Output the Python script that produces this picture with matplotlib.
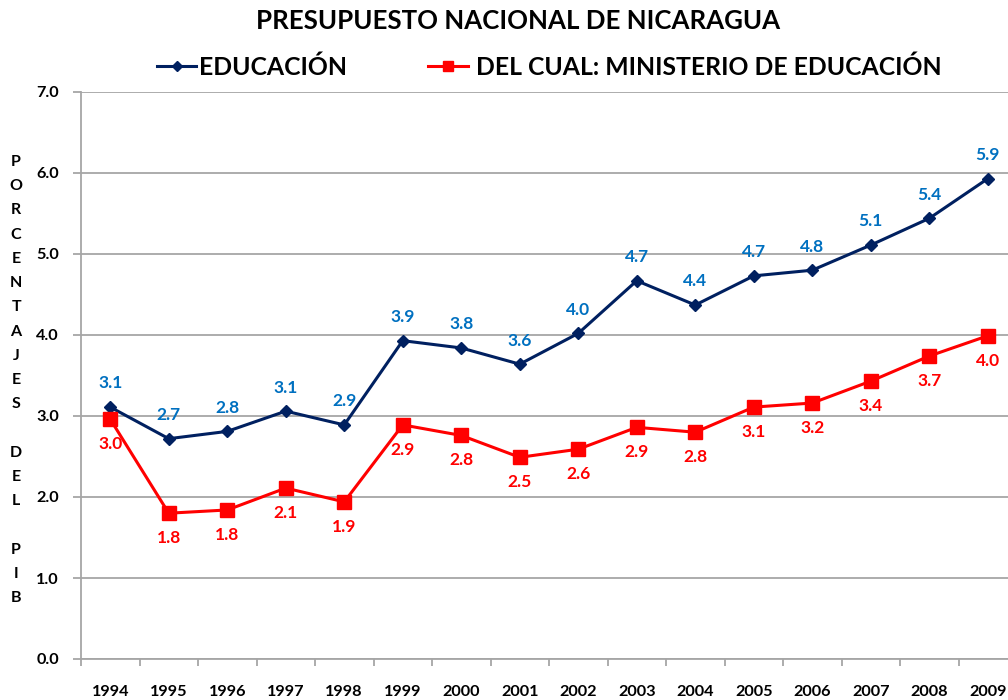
import matplotlib
matplotlib.use('Agg')
import matplotlib.pyplot as plt
from matplotlib.ticker import FixedLocator, NullFormatter

plt.rcParams['font.family'] = ['Lato', 'DejaVu Sans']
plt.rcParams['font.weight'] = 'bold'

years = ['1994', '1995', '1996', '1997', '1998', '1999', '2000', '2001',
         '2002', '2003', '2004', '2005', '2006', '2007', '2008', '2009']
educacion = [3.11, 2.72, 2.81, 3.06, 2.89, 3.93, 3.84, 3.64,
             4.02, 4.67, 4.37, 4.73, 4.80, 5.11, 5.44, 5.93]
ministerio = [2.96, 1.80, 1.84, 2.11, 1.94, 2.89, 2.76, 2.49,
              2.59, 2.86, 2.80, 3.11, 3.16, 3.43, 3.74, 3.99]

navy = '#002060'
red = '#FF0000'
lblue = '#0070C0'
grid = '#A6A6A6'

fig = plt.figure(figsize=(10.08, 7), dpi=100)
ax = fig.add_axes([81 / 1008, 41 / 700, 936 / 1008, 567 / 700])

x = list(range(len(years)))
ax.plot(x, educacion, color=navy, lw=2.2, marker='D', ms=6.5, label='EDUCACIÓN', zorder=3)
ax.plot(x, ministerio, color=red, lw=2.2, marker='s', ms=9.5,
        label=' DEL CUAL: MINISTERIO DE EDUCACIÓN', zorder=3)

for i, v in enumerate(educacion):
    ax.annotate(f'{v:.1f}', (i, v), xytext=(0, 17), textcoords='offset points',
                ha='center', va='center', color=lblue, fontsize=12.5, fontweight='bold')
for i, v in enumerate(ministerio):
    ax.annotate(f'{v:.1f}', (i, v), xytext=(0, -18), textcoords='offset points',
                ha='center', va='center', color=red, fontsize=12.5, fontweight='bold')

ax.set_xlim(-0.5, len(years) - 0.5)
ax.set_ylim(0, 7)
ax.set_yticks([0, 1, 2, 3, 4, 5, 6, 7])
ax.set_yticklabels([f'{t:.1f}' for t in range(8)])
ax.yaxis.grid(True, color=grid, lw=1.3)
ax.set_axisbelow(True)

ax.set_xticks(x)
ax.set_xticklabels(years)
ax.tick_params(axis='x', which='major', length=0, pad=19, labelsize=11.7)
ax.xaxis.set_minor_locator(FixedLocator([i + 0.5 for i in range(-1, len(years))]))
ax.xaxis.set_minor_formatter(NullFormatter())
ax.tick_params(axis='x', which='minor', length=5, color=grid, width=1.3)
ax.tick_params(axis='y', length=6, color=grid, width=1.3, labelsize=11.7, pad=10)

for s in ['top', 'right']:
    ax.spines[s].set_visible(False)
for s in ['left', 'bottom']:
    ax.spines[s].set_color(grid)
    ax.spines[s].set_linewidth(1.3)

fig.text(0.016, 1 - 380 / 700, 'P\nO\nR\nC\nE\nN\nT\nA\nJ\nE\nS\n\nD\nE\nL\n\nP\nI\nB',
         ha='center', va='center', fontsize=11.5, fontweight='bold', linespacing=1.93)

fig.text(0.514, 0.97, 'PRESUPUESTO NACIONAL DE NICARAGUA', ha='center', va='center',
         fontsize=18.6, fontweight='bold')

fig.legend(loc='center', bbox_to_anchor=(0.545, 0.904), ncol=2, frameon=False,
           prop={'size': 17.8, 'weight': 'bold'}, handlelength=1.6, handletextpad=0.1,
           columnspacing=3.3, markerscale=0.8)

fig.savefig('out.png', dpi=100)
